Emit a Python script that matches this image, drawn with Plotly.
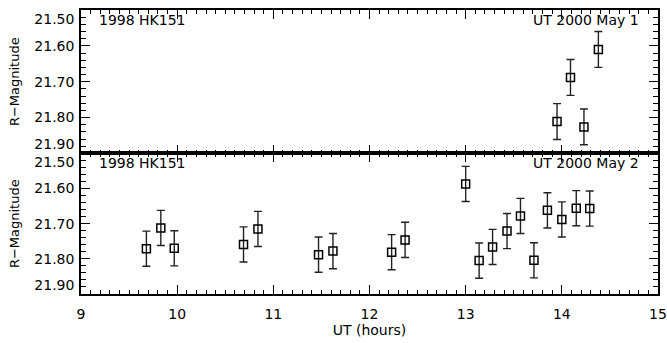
import plotly.graph_objects as go
from plotly.subplots import make_subplots

# May 1 data
ut_may1 = [13.95, 14.09, 14.23, 14.38]
mag_may1 = [21.811, 21.688, 21.826, 21.610]
err_may1 = [0.05, 0.05, 0.05, 0.05]

# May 2 data
ut_may2 = [9.68, 9.83, 9.97, 10.69, 10.84, 11.47, 11.62, 12.23, 12.37, 13.00,
           13.14, 13.28, 13.43, 13.57, 13.71, 13.85, 14.00, 14.15, 14.29]
mag_may2 = [21.771, 21.712, 21.770, 21.759, 21.715, 21.788, 21.778, 21.781, 21.746, 21.587,
            21.805, 21.766, 21.721, 21.678, 21.804, 21.662, 21.688, 21.656, 21.657]
err_may2 = [0.05] * len(ut_may2)

ytick_vals = [21.5, 21.6, 21.7, 21.8, 21.9]
ytick_text = ["21.50", "21.60", "21.70", "21.80", "21.90"]
xtick_vals = [9, 10, 11, 12, 13, 14, 15]
xtick_text = ["9", "10", "11", "12", "13", "14", "15"]

FONT = "DejaVu Sans"

fig = make_subplots(rows=2, cols=1, shared_xaxes=True, vertical_spacing=0,
                    row_heights=[0.505, 0.495])

def add_series(x, y, e, row):
    fig.add_trace(go.Scatter(
        x=x, y=y, mode="markers",
        marker=dict(symbol="square-open", size=8, color="black",
                    line=dict(width=1.5, color="black")),
        error_y=dict(type="data", array=e, visible=True, color="#222",
                     thickness=1.4, width=4),
        showlegend=False), row=row, col=1)

add_series(ut_may1, mag_may1, err_may1, 1)
add_series(ut_may2, mag_may2, err_may2, 2)

# edge labels nudged inward like the original (real text, padded with a blank line)
ylabels = list(ytick_text)
ylabels[0] = " <br>" + ylabels[0]
ylabels[-1] = ylabels[-1] + "<br> "

for r in (1, 2):
    fig.update_yaxes(range=[21.9, 21.5], tickvals=ytick_vals, ticktext=ylabels,
                     ticks="inside", ticklen=9, tickwidth=1, tickcolor="black",
                     minor=dict(ticks="inside", ticklen=5, dtick=0.02, tickcolor="black",
                                showgrid=False),
                     showline=True, linecolor="black", linewidth=1.5, mirror="allticks",
                     showgrid=False, zeroline=False, ticklabelstandoff=2, automargin=False,
                     ticklabeloverflow="allow",
                     tickfont=dict(family=FONT, size=14, color="black"),
                     title=dict(text="R\u2212Magnitude", font=dict(family=FONT, size=13, color="black"),
                                standoff=12),
                     row=r, col=1)
    fig.update_xaxes(range=[9, 15], tickvals=xtick_vals, ticktext=xtick_text,
                     ticks="inside", ticklen=9, tickwidth=1, tickcolor="black",
                     minor=dict(ticks="inside", ticklen=4, dtick=0.1, tickcolor="black",
                                showgrid=False),
                     showline=True, linecolor="black", linewidth=1.5, mirror="allticks",
                     showgrid=False, zeroline=False, ticklabelstandoff=6, automargin=False,
                     ticklabeloverflow="allow",
                     tickfont=dict(family=FONT, size=14, color="black"),
                     row=r, col=1)

fig.update_xaxes(title=dict(text="UT (hours)", font=dict(family=FONT, size=14, color="black"),
                            standoff=3), row=2, col=1)

ann_font = dict(family=FONT, size=14, color="black")
fig.add_annotation(text="1998 HK151", xref="x domain", yref="y domain", x=0.028, y=1.0,
                   xanchor="left", yanchor="top", showarrow=False, font=ann_font)
fig.add_annotation(text="UT 2000 May 1", xref="x domain", yref="y domain", x=0.97, y=1.0,
                   xanchor="right", yanchor="top", showarrow=False, font=ann_font)
fig.add_annotation(text="1998 HK151", xref="x2 domain", yref="y2 domain", x=0.028, y=1.0,
                   xanchor="left", yanchor="top", showarrow=False, font=ann_font)
fig.add_annotation(text="UT 2000 May 2", xref="x2 domain", yref="y2 domain", x=0.97, y=1.0,
                   xanchor="right", yanchor="top", showarrow=False, font=ann_font)

fig.update_layout(width=667, height=343, margin=dict(l=81, r=9, t=10, b=49, autoexpand=False),
                  paper_bgcolor="white", plot_bgcolor="white",
                  font=dict(family=FONT, color="black"))

fig.write_html("out.html")
